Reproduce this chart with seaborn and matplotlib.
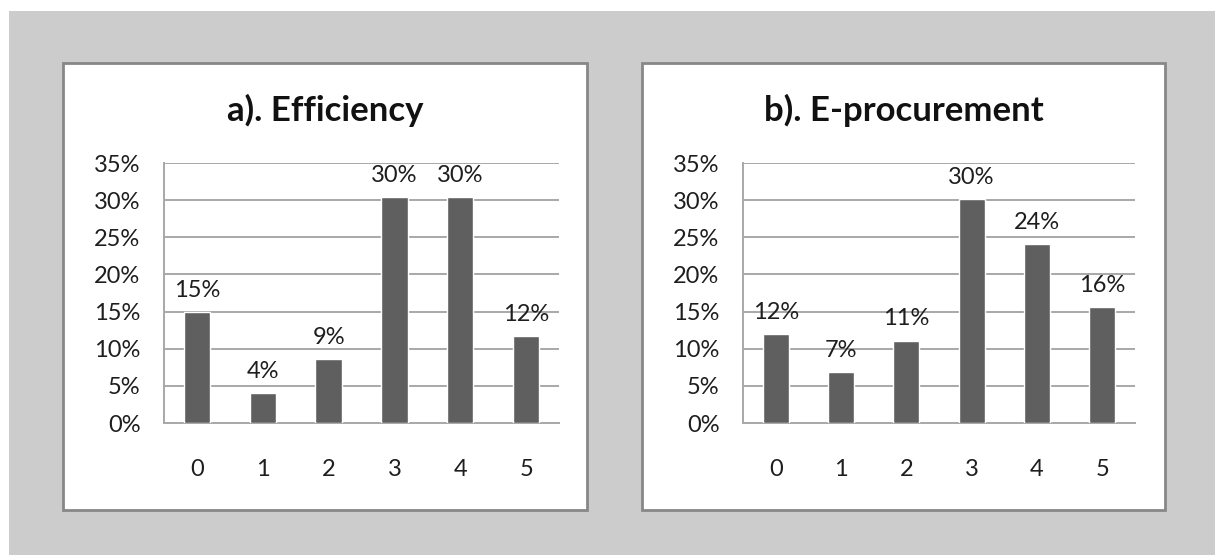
import matplotlib
matplotlib.use("Agg")
import matplotlib.pyplot as plt
from matplotlib.patches import Rectangle
from matplotlib.ticker import PercentFormatter
import seaborn as sns
import pandas as pd

# Survey scores and the share of respondents for each score
scores = ["0", "1", "2", "3", "4", "5"]
efficiency = [0.149, 0.040, 0.086, 0.304, 0.304, 0.117]
eprocurement = [0.120, 0.068, 0.111, 0.302, 0.241, 0.156]
titles = ["a). Efficiency", "b). E-procurement"]
y_ticks = [0.0, 0.05, 0.10, 0.15, 0.20, 0.25, 0.30, 0.35]

sns.set_theme(style="white")
plt.rcParams["font.family"] = ["Lato", "DejaVu Sans"]

W, H = 1215, 555
fig = plt.figure(figsize=(W / 100, H / 100), dpi=100)
fig.patch.set_facecolor("white")

BAR = "#5f5f5f"
GRID = "#a8a8a8"
TXT = "#1e1e1e"

# grey backdrop behind both panels
fig.patches.append(Rectangle((9 / W, 0), 1 - 9 / W, 1 - 11 / H, transform=fig.transFigure,
                             facecolor="#cccccc", edgecolor="none", zorder=-10))

# panel boxes (x0, y0_top, x1, y1_bottom) and plot areas in pixels
panels = [(63, 63, 587, 510), (642, 63, 1165, 510)]
plot_areas = [(164, 163, 559, 423), (743, 163, 1135, 423)]
series = [efficiency, eprocurement]

for (px0, py0, px1, py1), (ax0, ay0, ax1, ay1), vals, title in zip(panels, plot_areas, series, titles):
    fig.patches.append(Rectangle((px0 / W, 1 - py1 / H), (px1 - px0) / W, (py1 - py0) / H,
                                 transform=fig.transFigure, facecolor="white",
                                 edgecolor="#878787", linewidth=2.0, zorder=-5))
    fig.text((px0 + px1) / 2 / W, 1 - 110 / H, title, ha="center", va="center",
             fontsize=25, fontweight="bold", color="#111111")

    ax = fig.add_axes([ax0 / W, 1 - ay1 / H, (ax1 - ax0) / W, (ay1 - ay0) / H])
    ax.set_zorder(2)
    ax.set_facecolor("white")
    df = pd.DataFrame({"score": scores, "share": vals})
    sns.barplot(data=df, x="score", y="share", color=BAR, width=0.4,
                saturation=1, ax=ax, zorder=3)
    ax.set_xlim(-0.5, 5.5)
    ax.set_ylim(0, 0.35)
    ax.set_yticks(y_ticks)
    ax.yaxis.set_major_formatter(PercentFormatter(1.0, decimals=0))
    ax.yaxis.grid(True, color=GRID, linewidth=1.4, zorder=0)
    ax.set_axisbelow(True)
    ax.set_xlabel("")
    ax.set_ylabel("")
    for side in ["top", "right"]:
        ax.spines[side].set_visible(False)
    for side in ["left", "bottom"]:
        ax.spines[side].set_color(GRID)
        ax.spines[side].set_linewidth(1.4)
    ax.tick_params(axis="x", length=0, pad=26, labelsize=17, labelcolor=TXT)
    ax.tick_params(axis="y", length=0, pad=17, labelsize=17, labelcolor=TXT)

    for i, v in enumerate(vals):
        ax.annotate(f"{round(v * 100):.0f}%", (i, v), xytext=(0, 8),
                    textcoords="offset points", ha="center", va="bottom",
                    fontsize=17, color=TXT, clip_on=False)

fig.savefig("out.png", dpi=100, facecolor=fig.get_facecolor())
